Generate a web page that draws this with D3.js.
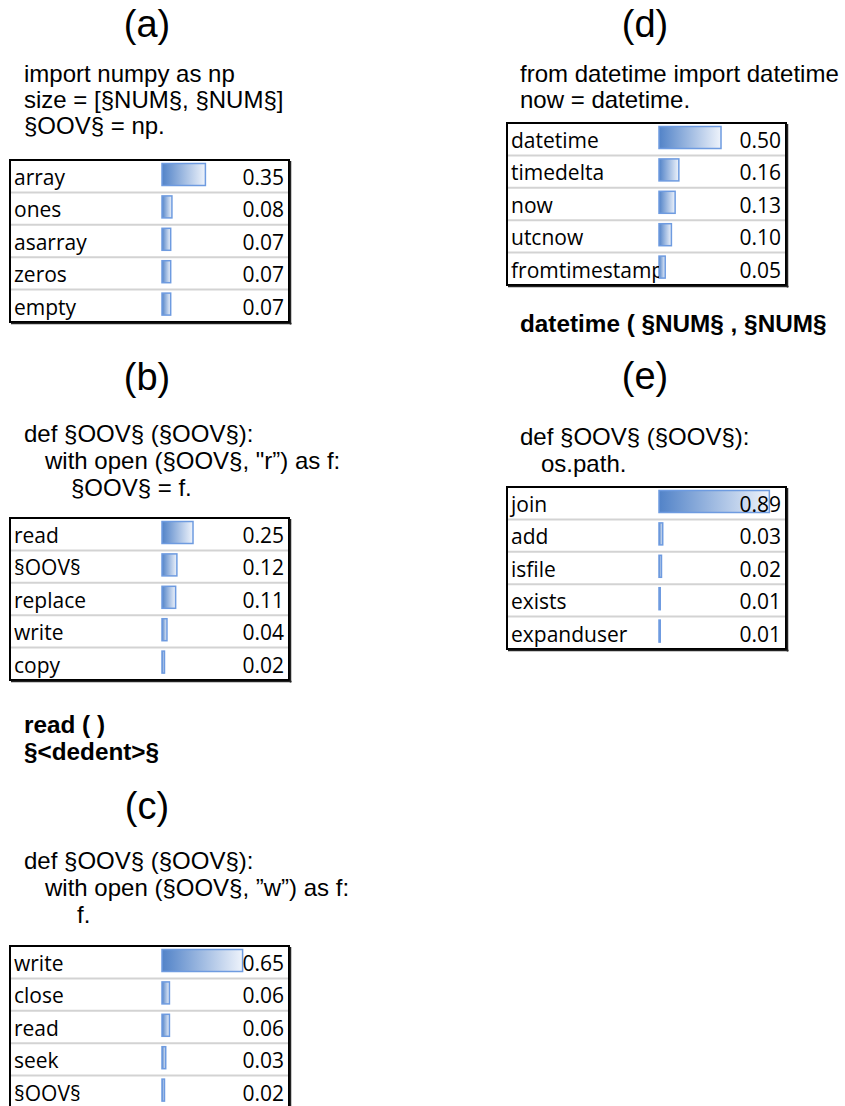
<!DOCTYPE html>
<html>
<head>
<meta charset="utf-8">
<script src="https://cdn.jsdelivr.net/npm/d3@7"></script>
<style>
  html, body { margin: 0; padding: 0; background: #ffffff; }
  svg { display: block; }
  .title { font-family: "Liberation Sans", Arial, sans-serif; font-size: 38px; fill: #000; }
  .code { font-family: "Liberation Sans", Arial, sans-serif; font-size: 24px; fill: #000; }
  .bold { font-family: "Liberation Sans", Arial, sans-serif; font-size: 24.3px; font-weight: bold; fill: #000; }
  .cell { font-family: "Open Sans", "Noto Sans", sans-serif; font-size: 21px; fill: #000; }
</style>
</head>
<body>
<script>
// Panel headings
const panelTitles = ["(a)", "(b)", "(c)", "(d)", "(e)"];

// Code context shown above each table
const codeA = ["import numpy as np", "size = [§NUM§, §NUM§]", "§OOV§ = np."];
const codeB = ["def §OOV§ (§OOV§):", "with open (§OOV§, \"r\u201D) as f:", "§OOV§ = f."];
const codeC = ["def §OOV§ (§OOV§):", "with open (§OOV§, \u201Dw\u201D) as f:", "f."];
const codeD = ["from datetime import datetime", "now = datetime."];
const codeE = ["def §OOV§ (§OOV§):", "os.path."];

// Predicted continuations (bold)
const nextB = ["read ( )", "§<dedent>§"];
const nextD = ["datetime ( §NUM§ , §NUM§"];

// Top-5 candidates and probabilities
const labelsA = ["array", "ones", "asarray", "zeros", "empty"];
const valuesA = [0.35, 0.08, 0.07, 0.07, 0.07];
const labelsB = ["read", "§OOV§", "replace", "write", "copy"];
const valuesB = [0.25, 0.12, 0.11, 0.04, 0.02];
const labelsC = ["write", "close", "read", "seek", "§OOV§"];
const valuesC = [0.65, 0.06, 0.06, 0.03, 0.02];
const labelsD = ["datetime", "timedelta", "now", "utcnow", "fromtimestamp"];
const valuesD = [0.50, 0.16, 0.13, 0.10, 0.05];
const labelsE = ["join", "add", "isfile", "exists", "expanduser"];
const valuesE = [0.89, 0.03, 0.02, 0.01, 0.01];

const W = 845, H = 1106;
const svg = d3.select("body").append("svg").attr("width", W).attr("height", H);

// Gradient used by every data bar (Excel-style data bar)
const defs = svg.append("defs");
const grad = defs.append("linearGradient").attr("id", "barGrad")
  .attr("x1", "0%").attr("x2", "100%").attr("y1", "0%").attr("y2", "0%");
grad.append("stop").attr("offset", "0%").attr("stop-color", "#5283c8");
grad.append("stop").attr("offset", "100%").attr("stop-color", "#eef3fb");

const tableW = 279, labelColW = 152, rowH = 32.4;
const barScale = d3.scaleLinear().domain([0, 1]).range([0, 124]);
const fmt = d3.format(".2f");

function drawText(cls, lines, xs, baselines) {
  lines.forEach((t, i) => {
    svg.append("text").attr("class", cls)
      .attr("x", xs[i]).attr("y", baselines[i])
      .attr("xml:space", "preserve")
      .text(t);
  });
}

function drawTitle(t, cx, baseline) {
  svg.append("text").attr("class", "title")
    .attr("x", cx).attr("y", baseline)
    .attr("text-anchor", "middle").text(t);
}

function drawTable(x0, y0, labels, values) {
  const g = svg.append("g").attr("transform", `translate(${x0},${y0})`);
  const y = d3.scaleBand().domain(labels).range([0, rowH * labels.length]);

  // row separators
  g.selectAll("line.sep").data(labels.slice(1)).join("line")
    .attr("class", "sep")
    .attr("x1", 1).attr("x2", tableW - 1)
    .attr("y1", d => y(d)).attr("y2", d => y(d))
    .attr("stroke", "#d3d3d3").attr("stroke-width", 2);

  // data bars
  g.selectAll("rect.bar").data(labels).join("rect")
    .attr("class", "bar")
    .attr("x", labelColW)
    .attr("y", d => y(d) + 3.5)
    .attr("width", (d, i) => barScale(values[i]))
    .attr("height", 22)
    .attr("fill", "url(#barGrad)")
    .attr("stroke", "#6e9be0").attr("stroke-width", 1.5);

  // candidate names (clipped to the first column)
  const clipId = "clip" + x0 + "_" + Math.round(y0);
  defs.append("clipPath").attr("id", clipId)
    .append("rect").attr("x", x0).attr("y", y0).attr("width", labelColW).attr("height", rowH * labels.length);
  const lg = svg.append("g").attr("clip-path", `url(#${clipId})`);
  lg.selectAll("text").data(labels).join("text")
    .attr("class", "cell")
    .attr("x", x0 + 4)
    .attr("y", d => y0 + y(d) + 25)
    .text(d => d);

  // probability values
  g.selectAll("text.val").data(values).join("text")
    .attr("class", "cell val")
    .attr("x", tableW - 5)
    .attr("y", (d, i) => y(labels[i]) + 25)
    .attr("text-anchor", "end")
    .text(d => fmt(d));

  // outer frame with a slightly heavier right/bottom edge
  g.append("rect").attr("x", 0).attr("y", 0)
    .attr("width", tableW).attr("height", rowH * labels.length)
    .attr("fill", "none").attr("stroke", "#000").attr("stroke-width", 2);
  g.append("line").attr("x1", tableW + 1.5).attr("x2", tableW + 1.5)
    .attr("y1", 1).attr("y2", rowH * labels.length + 2.5)
    .attr("stroke", "#222").attr("stroke-width", 1.5);
  g.append("line").attr("x1", 1).attr("x2", tableW + 2.5)
    .attr("y1", rowH * labels.length + 1.5).attr("y2", rowH * labels.length + 1.5)
    .attr("stroke", "#222").attr("stroke-width", 1.5);
}

// (a)
drawTitle(panelTitles[0], 147, 37);
drawText("code", codeA, [24, 24, 24], [82, 108, 134]);
drawTable(10, 160, labelsA, valuesA);

// (b)
drawTitle(panelTitles[1], 147, 390);
drawText("code", codeB, [24, 45, 71], [442, 469, 496]);
drawTable(10, 518, labelsB, valuesB);
drawText("bold", nextB, [24, 24], [733, 760]);

// (c)
drawTitle(panelTitles[2], 147, 819);
drawText("code", codeC, [24, 45, 77], [869, 896, 923]);
drawTable(10, 946, labelsC, valuesC);

// (d)
drawTitle(panelTitles[3], 645, 37);
drawText("code", codeD, [520, 520], [82, 108]);
drawTable(507, 123, labelsD, valuesD);
drawText("bold", nextD, [520], [332]);

// (e)
drawTitle(panelTitles[4], 645, 389);
drawText("code", codeE, [520, 541], [445, 472]);
drawTable(507, 487, labelsE, valuesE);
</script>
</body>
</html>
